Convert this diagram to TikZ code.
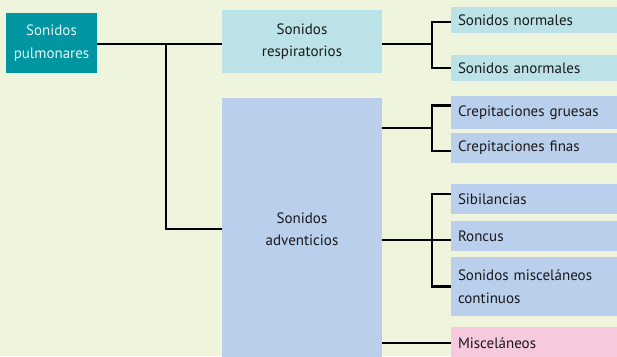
\documentclass[tikz,border=0pt]{standalone}
\usepackage{fontspec}
\setmainfont{PT Sans}
\usetikzlibrary{positioning}
\definecolor{bgc}{HTML}{EFF4DD}
\definecolor{tealc}{HTML}{0096A1}
\definecolor{cyanc}{HTML}{BBE2E7}
\definecolor{bluec}{HTML}{BACFEC}
\definecolor{pinkc}{HTML}{F6C9DC}
\definecolor{palet}{HTML}{E4F6F7}

\begin{document}
\begin{tikzpicture}[x=1pt,y=-1pt,
  bx/.style={anchor=north west,inner sep=0pt,outer sep=0pt,align=center,
    font=\fontsize{15}{22.5}\selectfont,text=black!90},
  leaf/.style={anchor=north west,outer sep=0pt,inner xsep=7pt,inner ysep=0pt,
    text width=152pt,align=left,font=\fontsize{15}{22.5}\selectfont,text=black!90},
  ln/.style={line width=2.6pt}
]
% background
\fill[bgc] (0,0) rectangle (617,356);
\useasboundingbox (0,0) rectangle (617,356);

% left and middle boxes
\node[bx,fill=tealc,text=palet,minimum width=91pt,minimum height=60pt] (pulm) at (6,13) {Sonidos\\pulmonares};
\node[bx,fill=cyanc,minimum width=160pt,minimum height=63pt] (resp) at (222,10) {Sonidos\\respiratorios};
\node[bx,fill=bluec,minimum width=160pt,minimum height=262pt] (adv) at (222,98) {Sonidos\\adventicios};

% leaves
\node[leaf,fill=cyanc,minimum height=26pt] (norm) at (451,7) {Sonidos normales};
\node[leaf,fill=cyanc,minimum height=26pt] (anorm) at (451,55) {Sonidos anormales};
\node[leaf,fill=bluec,minimum height=33pt] (grue) at (451,96) {Crepitaciones gruesas};
\node[leaf,fill=bluec,minimum height=30pt] (fina) at (451,133) {Crepitaciones finas};
\node[leaf,fill=bluec,minimum height=30pt] (sib) at (451,184) {Sibilancias};
\node[leaf,fill=bluec,minimum height=30pt] (ronc) at (451,221) {Roncus};
\node[leaf,fill=bluec,minimum height=59pt] (misc) at (451,257) {Sonidos misceláneos\\continuos};
\node[leaf,fill=pinkc,minimum height=32pt] (misl) at (451,327) {Misceláneos};

% joints
\coordinate (j1) at (166,44);
\coordinate (j2) at (432,44);
\coordinate (j3) at (432,128);
\coordinate (j4) at (432,240);

% connectors
\draw[ln] (pulm.east |- j1) -- (resp.west |- j1);
\draw[ln] (j1) |- (adv.west);
\draw[ln] (resp.east |- j2) -- (j2);
\draw[ln] ([yshift=-2pt]norm.west) -| (j2) |- (anorm.west);
\draw[ln] (adv.east |- j3) -- (j3);
\draw[ln] ([yshift=7pt]grue.west) -| (j3) |- ([yshift=-3pt]fina.west);
\draw[ln] (adv.east |- j4) -- (ronc.west |- j4);
\draw[ln] ([yshift=5pt]sib.west) -| (j4) |- (misc.west);
\draw[ln] (adv.east |- misl.west) -- (misl.west);
\end{tikzpicture}
\end{document}
